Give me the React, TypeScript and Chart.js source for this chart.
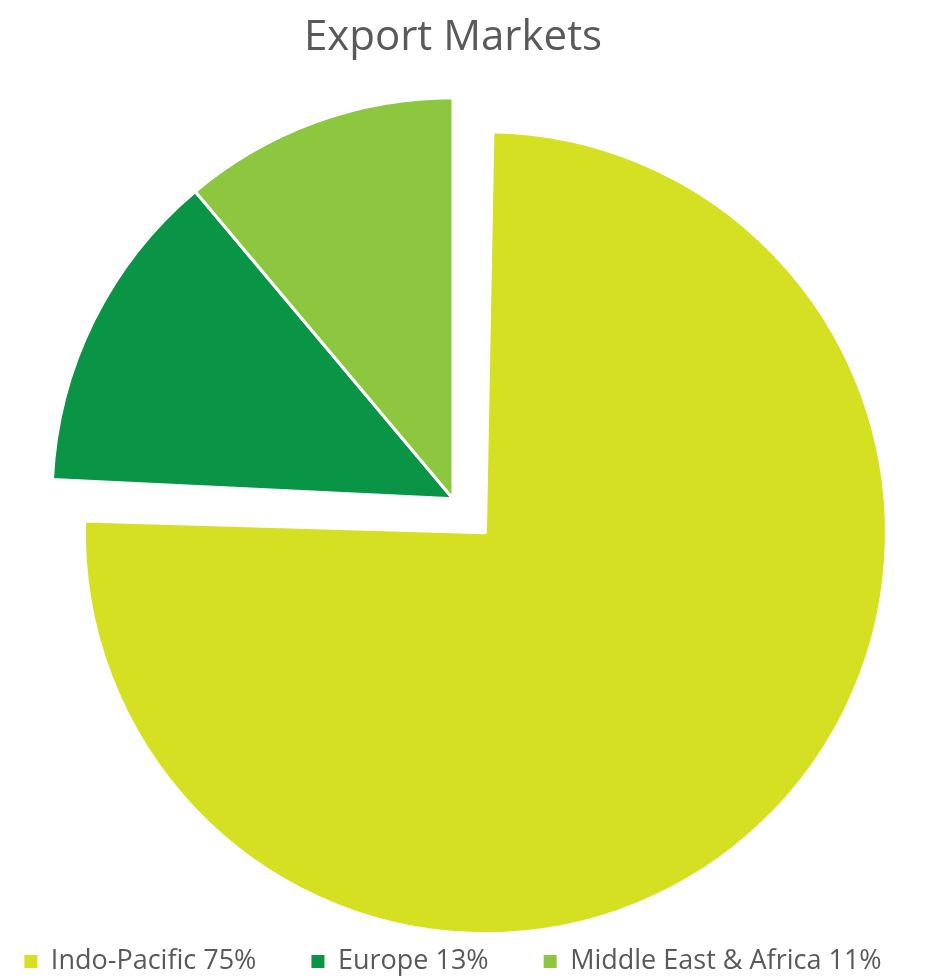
import React, { useEffect, useRef } from "react";
import { Chart, registerables } from "chart.js";

Chart.register(...registerables);

const categories = ["Indo-Pacific", "Europe", "Middle East & Africa"];
const shares = [75, 13, 11];
const colors = ["#D6E022", "#0A9446", "#8DC63F"];
// Chart.js draws an arc's offset at a quarter of this value
const explode = [188, 0, 0];

// Chart.js also grows an exploded arc's radius by its offset; keep every slice the same size
const keepRadius = {
  id: "keepRadius",
  afterDatasetsUpdate(chart: any) {
    const meta = chart.getDatasetMeta(0);
    meta.data.forEach((arc: any, i: number) => {
      const off = (explode[i] || 0) / 4;
      if (!off) return;
      const circ = arc.endAngle - arc.startAngle;
      const fix = 1 - Math.sin(Math.min(Math.PI, circ || 0));
      arc.outerRadius = arc.outerRadius - off * fix;
    });
  },
};

export default function App() {
  const ref = useRef<HTMLCanvasElement | null>(null);
  useEffect(() => {
    if (!ref.current) return;
    const chart = new Chart(ref.current, {
      type: "pie",
      data: {
        labels: categories.map((c, i) => `${c} ${shares[i]}%`),
        datasets: [
          {
            data: shares,
            backgroundColor: colors,
            borderColor: "#FFFFFF",
            borderWidth: 3,
            offset: explode,
            clip: false as any,
          },
        ],
      },
      options: {
        animation: false,
        responsive: false,
        radius: 401,
        layout: { padding: 0 },
        plugins: {
          title: {
            display: true,
            text: "Export Markets",
            color: "#595959",
            font: { family: "Open Sans", size: 42, weight: "normal" },
            padding: { top: 13, bottom: 41 },
          },
          legend: {
            display: true,
            position: "bottom",
            labels: {
              color: "#595959",
              font: { family: "Open Sans", size: 27 },
              boxWidth: 13,
              boxHeight: 13,
              padding: 55,
              generateLabels: (ch: any) => {
                const base = (Chart as any).overrides.pie.plugins.legend.labels.generateLabels(ch);
                return base.map((l: any) => ({ ...l, lineWidth: 0, strokeStyle: "rgba(0,0,0,0)" }));
              },
            },
          },
          tooltip: { enabled: false },
        },
      } as any,
      plugins: [keepRadius],
    });
    return () => chart.destroy();
  }, []);
  return (
    <div
      style={{
        position: "fixed",
        left: 0,
        top: 0,
        width: 934,
        height: 977,
        overflow: "hidden",
        background: "#fff",
      }}
    >
      <canvas
        ref={ref}
        width={1000}
        height={985}
        style={{ position: "absolute", left: -47, top: 0, width: 1000, height: 985 }}
      />
    </div>
  );
}
